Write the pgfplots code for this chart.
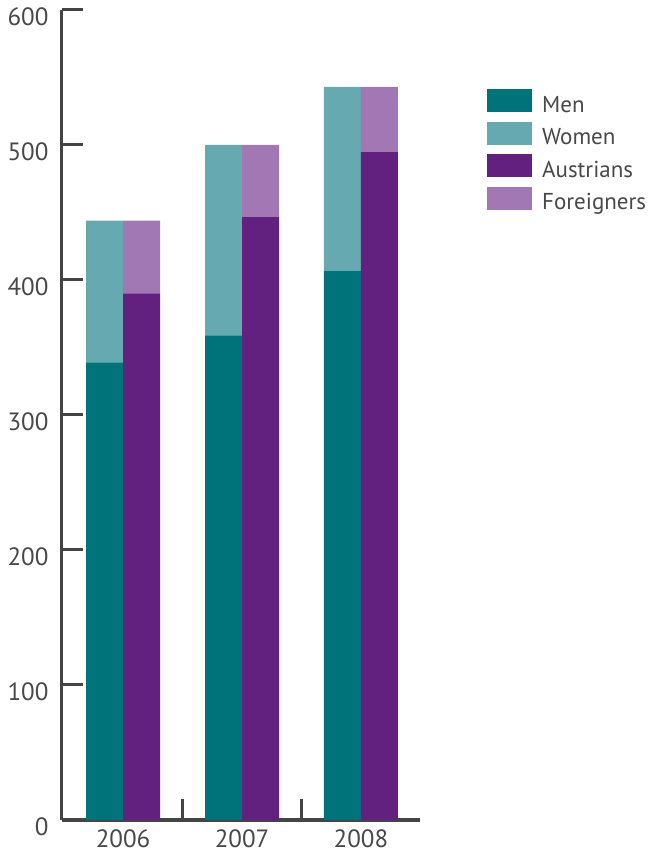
\documentclass[border=0pt]{standalone}
\usepackage{pgfplots}
\usepackage{pgfplotstable}
\pgfplotsset{compat=1.18}
\usepackage{fontspec}
\setmainfont{PT Sans}

\definecolor{men}{HTML}{00737A}
\definecolor{women}{HTML}{67A9B0}
\definecolor{austrians}{HTML}{62207F}
\definecolor{foreigners}{HTML}{A178B3}
\definecolor{axisgray}{HTML}{444444}
\definecolor{textgray}{HTML}{484848}

% year, then the two stacks: by sex and by citizenship
\pgfplotstableread{
x men women austrians foreigners
0 339 105 390 54
1 359 141 447 53
2 407 136 495 48
}\data

\pgfplotsset{
  base/.style={
    at={(62pt,34pt)}, anchor=south west,
    scale only axis, width=358pt, height=810pt,
    xmin=-0.513, xmax=2.496, ymin=0, ymax=600,
    ybar stacked, bar width=0.311,
  },
  box legend/.style={
    legend image code/.code={\fill[##1] (0pt,-6pt) rectangle (45pt,17pt);}
  },
}

\begin{document}
\begin{tikzpicture}[x=1pt,y=1pt]
\useasboundingbox (0,0) rectangle (652,854);

% left stack: men and women, with the axes
\begin{axis}[base,
  axis x line=bottom, axis y line=left,
  axis line style={-, line width=3pt, axisgray},
  ytick={0,100,...,600},
  xtick={0.5,1.5}, xticklabels={},
  extra x ticks={0,1,2}, extra x tick labels={2006,2007,2008},
  extra x tick style={major tick length=0pt},
  tick align=inside, major tick length=21pt,
  tick style={line width=3pt, color=axisgray},
  ticklabel style={font=\fontsize{25}{30}\selectfont, text=textgray},
  yticklabel style={yshift=-7pt, xshift=-10pt},
  xticklabel style={yshift=-6pt},
  /pgf/number format/assume math mode=true,
]
\addplot[fill=men, draw=none, bar shift=-0.1555] table[x=x, y=men] {\data};
\addplot[fill=women, draw=none, bar shift=-0.1555] table[x=x, y=women] {\data};
\end{axis}

% right stack: Austrians and foreigners, with the legend
\begin{axis}[base, hide axis,
  legend style={
    at={(1.187,0.9025)}, anchor=north west,
    draw=none, fill=none, inner sep=0pt,
    row sep=4.5pt, column sep=10pt,
    nodes={inner sep=0pt, text height=17pt, text depth=5pt,
      font=\fontsize{23}{28}\selectfont, text=textgray},
  },
  legend cell align=left,
]
\addlegendimage{box legend, fill=men, draw=none}
\addlegendentry{Men}
\addlegendimage{box legend, fill=women, draw=none}
\addlegendentry{Women}
\addplot[box legend, fill=austrians, draw=none, bar shift=0.1555] table[x=x, y=austrians] {\data};
\addlegendentry{Austrians}
\addplot[box legend, fill=foreigners, draw=none, bar shift=0.1555] table[x=x, y=foreigners] {\data};
\addlegendentry{Foreigners}
\end{axis}
\end{tikzpicture}
\end{document}
